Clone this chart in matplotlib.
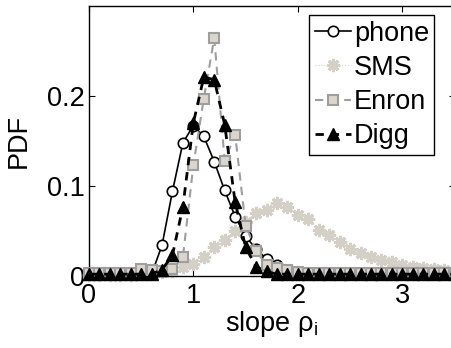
import numpy as np
import matplotlib
matplotlib.use("Agg")
import matplotlib.pyplot as plt

plt.rcParams["font.family"] = ["Liberation Sans", "DejaVu Sans"]

# slope values (0.0 .. 3.5 step 0.1) and PDF readings per dataset
slope = np.round(np.arange(0, 3.51, 0.1), 1)

phone = [0.002, 0.002, 0.002, 0.002, 0.002, 0.002, 0.002, 0.034, 0.094, 0.148,
         0.167, 0.155, 0.127, 0.095, 0.066, 0.044, 0.030, 0.019, 0.012, 0.006,
         0.003, 0.002, 0.002, 0.002, 0.002, 0.002, 0.002, 0.002, 0.002, 0.002,
         0.002, 0.002, 0.002, 0.002, 0.002, 0.002]

sms = [0.001, 0.001, 0.001, 0.001, 0.001, 0.002, 0.003, 0.004, 0.006, 0.010,
       0.013, 0.021, 0.032, 0.040, 0.050, 0.060, 0.070, 0.073, 0.081, 0.077,
       0.068, 0.063, 0.051, 0.046, 0.038, 0.030, 0.025, 0.021, 0.018, 0.015,
       0.012, 0.010, 0.009, 0.008, 0.007, 0.006]

enron = [0.003, 0.003, 0.003, 0.003, 0.003, 0.008, 0.007, 0.006, 0.008, 0.021,
         0.123, 0.197, 0.264, 0.128, 0.157, 0.056, 0.028, 0.012, 0.009, 0.007,
         0.004, 0.003, 0.003, 0.003, 0.003, 0.003, 0.003, 0.003, 0.003, 0.003,
         0.003, 0.003, 0.003, 0.003, 0.003, 0.003]

digg = [0.002, 0.002, 0.002, 0.002, 0.002, 0.002, 0.002, 0.007, 0.023, 0.077,
        0.170, 0.221, 0.218, 0.168, 0.082, 0.032, 0.010, 0.005, 0.002, 0.002,
        0.002, 0.002, 0.002, 0.002, 0.002, 0.002, 0.002, 0.002, 0.002, 0.002,
        0.002, 0.002, 0.002, 0.002, 0.002, 0.002]

fs = 19.5

fig = plt.figure(figsize=(4.51, 3.48), dpi=100)
ax = fig.add_axes([0.197, 0.207, 0.811, 0.776])

sms_col = (0.83, 0.81, 0.78)
enron_edge = (0.62, 0.62, 0.62)
enron_face = (0.86, 0.84, 0.80)

ax.plot(slope, phone, "-", color="black", lw=1.2, marker="o", ms=7.5,
        mfc="white", mec="black", mew=1.2, label="phone", clip_on=False, zorder=3)
ax.plot(slope, sms, ":", color=sms_col, lw=0.8, marker=(8, 2, 0), ms=9.5,
        mec=sms_col, mew=2.2, label="SMS", clip_on=False, zorder=2)
ax.plot(slope, enron, "--", color=enron_edge, lw=1.5, dashes=(4, 3), marker="s", ms=7,
        mfc=enron_face, mec=enron_edge, mew=1.5, label="Enron", clip_on=False, zorder=3)
ax.plot(slope, digg, "--", color="black", lw=2.0, dashes=(3, 2.5), marker="^", ms=8,
        mfc="black", mec="black", label="Digg", clip_on=False, zorder=4)

ax.set_xlim(0, 3.5)
ax.set_ylim(0, 0.3)
ax.set_xticks([0, 1, 2, 3])
ax.set_yticks([0, 0.1, 0.2])
ax.set_yticklabels(["0", "0.1", "0.2"])
ax.tick_params(direction="in", top=True, right=True, labelsize=fs, length=4)
ax.tick_params(axis="x", pad=5)
ax.tick_params(axis="y", pad=3)
for s in ax.spines.values():
    s.set_linewidth(1.0)

ax.set_xlabel("slope ρ$_\\mathregular{i}$", fontsize=fs, labelpad=0)
ax.set_ylabel("PDF", fontsize=fs, labelpad=11)

leg = ax.legend(loc="upper right", bbox_to_anchor=(0.945, 0.965), fontsize=fs,
                frameon=True, fancybox=False, edgecolor="black", framealpha=1,
                handlelength=1.35, handletextpad=0.1, labelspacing=0.3,
                borderpad=0.2, borderaxespad=0)
leg.get_frame().set_linewidth(1.0)

fig.savefig("out.png", dpi=100)
